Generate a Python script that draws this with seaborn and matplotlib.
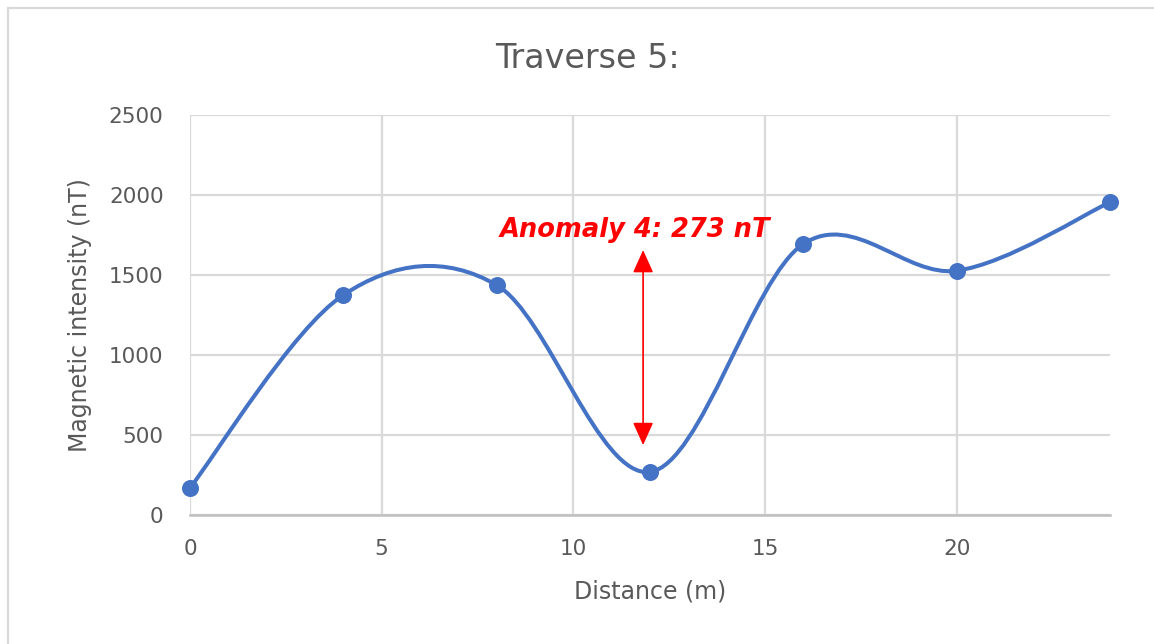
import numpy as np
import pandas as pd
import matplotlib
matplotlib.use("Agg")
import matplotlib.pyplot as plt
import seaborn as sns
from matplotlib.path import Path
from matplotlib.patches import PathPatch, ArrowStyle
from matplotlib.lines import Line2D

# ---- data ----
distance = [0, 4, 8, 12, 16, 20, 24]
intensity = [170, 1375, 1437, 269, 1694, 1527, 1955]
title = "Traverse 5:"
x_label = "Distance (m)"
y_label = "Magnetic intensity (nT)"
annotation_text = "Anomaly 4: 273 nT"
arrow_x = 11.82
arrow_low = 437
arrow_high = 1656
x_ticks = [0, 5, 10, 15, 20]
y_ticks = [0, 500, 1000, 1500, 2000, 2500]

df = pd.DataFrame({"distance": distance, "intensity": intensity})

sns.set_theme(style="white")
plt.rcParams["font.family"] = ["DejaVu Sans"]

W, H = 1154, 644
fig = plt.figure(figsize=(W / 100, H / 100), dpi=100)
ax = fig.add_axes([190 / W, 1 - 515 / H, (1110 - 190) / W, (515 - 115) / H])

blue = "#4472C4"
grid_c = "#D9D9D9"
text_c = "#595959"

# smooth (Excel-style) curve built from the data points as cubic Bezier segments
pts = np.column_stack([distance, intensity]).astype(float)
n = len(pts)
verts = [tuple(pts[0])]
codes = [Path.MOVETO]
for i in range(n - 1):
    p0 = pts[i - 1] if i > 0 else pts[i]
    p1 = pts[i]
    p2 = pts[i + 1]
    p3 = pts[i + 2] if i + 2 < n else pts[i + 1]
    c1 = p1 + (p2 - p0) / 6.0
    c2 = p2 - (p3 - p1) / 6.0
    verts += [tuple(c1), tuple(c2), tuple(p2)]
    codes += [Path.CURVE4] * 3
ax.add_patch(PathPatch(Path(verts, codes), facecolor="none", edgecolor=blue,
                       lw=2.9, capstyle="round", joinstyle="round", zorder=3))

sns.scatterplot(data=df, x="distance", y="intensity", ax=ax, color=blue,
                s=150, edgecolor=blue, linewidth=0, zorder=4, clip_on=False)

ax.set_xlim(0, 24)
ax.set_ylim(0, 2500)
ax.set_xticks(x_ticks)
ax.set_yticks(y_ticks)
ax.grid(True, color=grid_c, lw=1.6)
ax.set_axisbelow(True)
for s in ["top", "right", "left"]:
    ax.spines[s].set_visible(False)
ax.spines["bottom"].set_color("#BFBFBF")
ax.spines["bottom"].set_linewidth(1.8)
ax.tick_params(axis="both", length=0, labelsize=15.5, labelcolor=text_c)
ax.tick_params(axis="x", pad=17)
ax.tick_params(axis="y", pad=19)
ax.set_xlabel("")
ax.set_ylabel("")

fig.text(650 / W, 1 - 592 / H, x_label, ha="center", va="center",
         fontsize=17, color=text_c)
fig.text(80 / W, 1 - 315 / H, y_label, ha="center", va="center",
         rotation=90, fontsize=17, color=text_c)
fig.text(587 / W, 1 - 59 / H, title, ha="center", va="center",
         fontsize=24, color=text_c)

# annotation arrow and text
ax.annotate("", xy=(arrow_x, arrow_high), xytext=(arrow_x, arrow_low),
            arrowprops=dict(arrowstyle=ArrowStyle("<|-|>", head_length=1.0, head_width=0.45),
                            color="#FF0000", lw=1.2, mutation_scale=14,
                            shrinkA=0, shrinkB=0), zorder=5)
ax.text(11.61, 1781, annotation_text, ha="center", va="center", color="#FF0000",
        fontsize=18.5, fontweight="bold", fontstyle="italic", zorder=6)

# chart area border (top and left visible)
fig.add_artist(Line2D([8 / W, 8 / W], [1 - 8 / H, 0], color=grid_c, lw=1.6))
fig.add_artist(Line2D([8 / W, 1], [1 - 8 / H, 1 - 8 / H], color=grid_c, lw=1.6))

fig.savefig("out.png", dpi=100, facecolor="white")
